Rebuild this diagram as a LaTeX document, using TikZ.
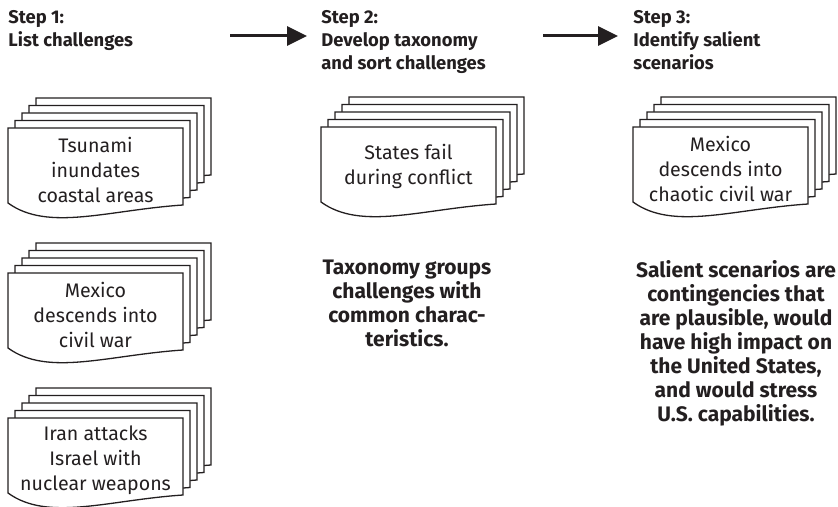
\documentclass[tikz,border=0pt]{standalone}
\usepackage{fontspec}
\setmainfont{Fira Sans}
\usetikzlibrary{arrows.meta,positioning}
\definecolor{ink}{HTML}{231F20}

% stack of five sheets, front sheet top left at (#1,#2)
\newcommand{\docstack}[2]{%
  \foreach \k in {4,3,2,1,0}{%
    \draw[sheet,shift={(#1+7*\k,#2-7.5*\k)}] (0,0) -- (175,0) -- (175,77)
      .. controls (100,82) and (40,104) .. (0,75) -- cycle;
  }%
}

\begin{document}
\begin{tikzpicture}[x=0.5pt,y=-0.5pt,
  sheet/.style={draw=ink,fill=white,line width=0.65pt},
  card/.style={align=center,text=ink,inner sep=0pt,font=\fontsize{9.8}{12.5}\selectfont},
  heading/.style={align=left,text=ink,inner sep=0pt,anchor=north west,font=\bfseries\fontsize{9.2}{11.5}\selectfont},
  note/.style={align=center,text=ink,inner sep=0pt,anchor=north,font=\bfseries\fontsize{10.5}{12}\selectfont},
  flow/.style={draw=ink,line width=1.5pt,-{Triangle[length=10pt,width=9.5pt]}}]
\useasboundingbox (0,0) rectangle (838,507);

% headings
\node[heading] (step1) at (8,10) {Step 1:\\List challenges};
\node[heading] (step2) at (321,10) {Step 2:\\Develop taxonomy\\and sort challenges};
\node[heading] (step3) at (633,10) {Step 3:\\Identify salient\\scenarios};

\coordinate (a1s) at (230,36);
\coordinate (a1e) at (307,36);
\coordinate (a2s) at (543,36);
\coordinate (a2e) at (618,36);
\draw[flow] (a1s) -- (a1e);
\draw[flow] (a2s) -- (a2e);

% step 1: challenges
\docstack{8}{128}
\node[card] (tsunami) at (95.5,170) {Tsunami\\inundates\\coastal areas};
\docstack{8}{273}
\node[card] (mexico) at (95.5,315) {Mexico\\descends into\\civil war};
\docstack{8}{418}
\node[card] (iran) at (95.5,460) {Iran attacks\\Israel with\\nuclear weapons};

% step 2: taxonomy
\docstack{321}{127}
\node[card] (states) at (408.5,166) {States fail\\during conflict};
\node[note] (taxnote) at (407,260) {Taxonomy groups\\challenges with\\common charac-\\teristics.};

% step 3: salient scenarios
\docstack{633}{127}
\node[card] (chaos) at (720.5,169) {Mexico\\descends into\\chaotic civil war};
\node[note] (salnote) at (736,260) {Salient scenarios are\\contingencies that\\are plausible, would\\have high impact on\\the United States,\\and would stress\\U.S. capabilities.};
\end{tikzpicture}
\end{document}
